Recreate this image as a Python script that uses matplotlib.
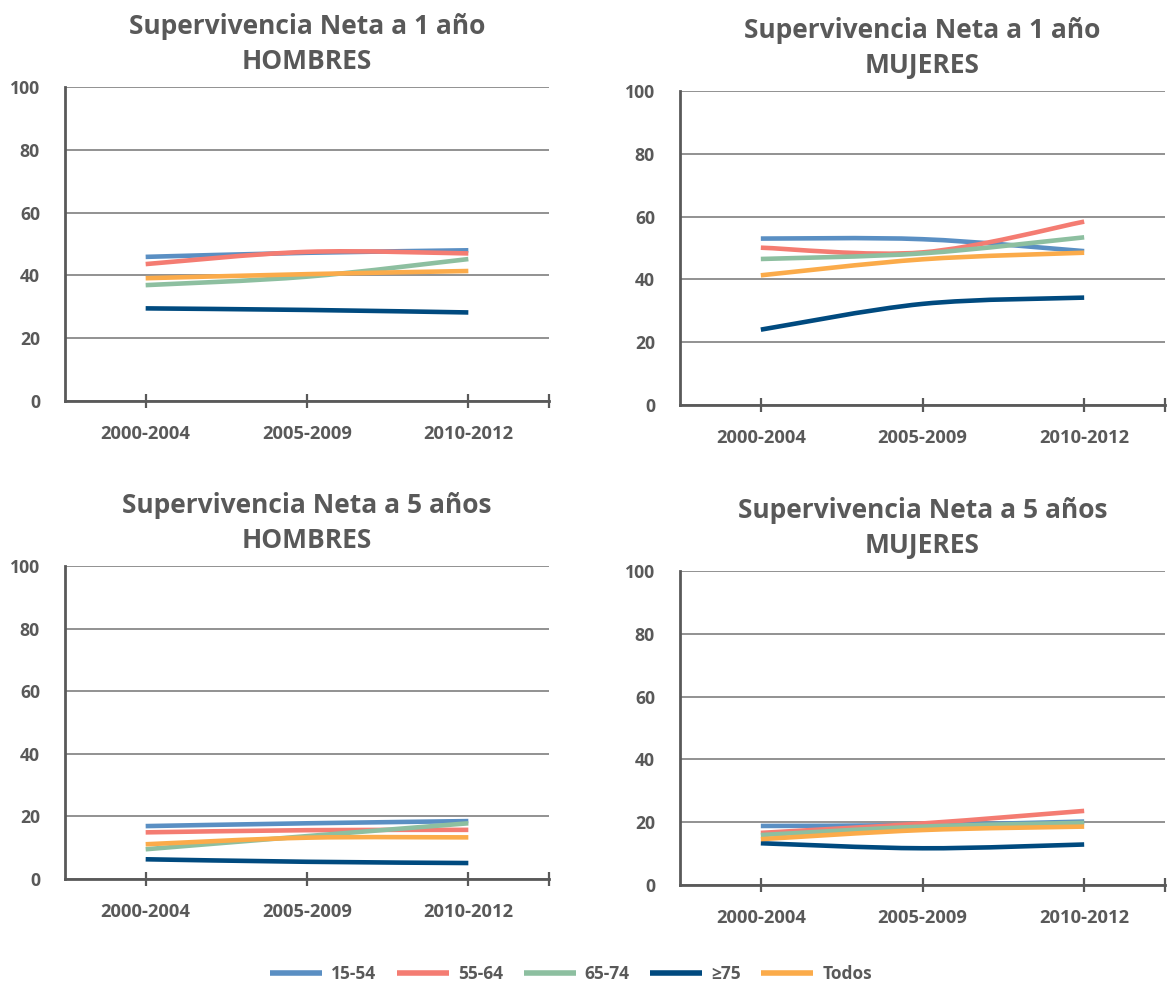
import matplotlib
matplotlib.use('Agg')
import matplotlib.pyplot as plt
from matplotlib.path import Path
from matplotlib.patches import PathPatch
from matplotlib.lines import Line2D
import numpy as np

plt.rcParams['font.family'] = ['Open Sans', 'DejaVu Sans']
plt.rcParams['font.weight'] = 'bold'

# datos
periodos = ['2000-2004', '2005-2009', '2010-2012']
grupos = ['15-54', '55-64', '65-74', '≥75', 'Todos']
colores = ['#5a8fc3', '#f47c72', '#8dbfa0', '#004a7f', '#fbab4a']

h1 = {'15-54': [45.9, 47.2, 48.0], '55-64': [43.6, 47.5, 47.0], '65-74': [36.9, 39.6, 45.2],
      '≥75': [29.5, 29.0, 28.2], 'Todos': [39.1, 40.4, 41.4]}
m1 = {'15-54': [53.0, 52.8, 49.0], '55-64': [50.1, 48.6, 58.4], '65-74': [46.5, 48.3, 53.4],
      '≥75': [24.0, 32.2, 34.2], 'Todos': [41.3, 46.4, 48.5]}
h5 = {'15-54': [16.9, 17.8, 18.5], '55-64': [14.9, 15.6, 15.7], '65-74': [9.5, 13.7, 17.8],
      '≥75': [6.3, 5.5, 5.1], 'Todos': [11.1, 13.2, 13.3]}
m5 = {'15-54': [18.8, 19.1, 20.2], '55-64': [16.6, 19.6, 23.6], '65-74': [15.9, 18.6, 19.8],
      '≥75': [13.3, 11.7, 12.9], 'Todos': [14.6, 17.5, 18.6]}

gris = '#595959'
W, H = 1167, 982


def suave(ax, xs, ys, color):
    # linea suavizada tipo Excel (bezier catmull-rom)
    pts = np.column_stack([xs, ys]).astype(float)
    n = len(pts)
    verts = [pts[0]]
    codes = [Path.MOVETO]
    for i in range(n - 1):
        p0 = pts[i - 1] if i > 0 else pts[i]
        p1, p2 = pts[i], pts[i + 1]
        p3 = pts[i + 2] if i + 2 < n else pts[i + 1]
        c1 = p1 + (p2 - p0) / 6
        c2 = p2 - (p3 - p1) / 6
        verts += [c1, c2, p2]
        codes += [Path.CURVE4] * 3
    ax.add_patch(PathPatch(Path(verts, codes), fill=False, edgecolor=color,
                           lw=3.3, capstyle='butt', zorder=3))


def panel(rect, datos, titulo):
    ax = fig.add_axes(rect)
    x = np.arange(len(periodos))
    for g, c in zip(grupos, colores):
        suave(ax, x, datos[g], c)
    ax.set_xlim(-0.5, 2.5)
    ax.set_ylim(0, 100)
    ax.set_yticks([0, 20, 40, 60, 80, 100])
    ax.set_xticks([0, 1, 2, 2.5])
    ax.set_xticklabels(periodos + [''])
    ax.grid(axis='y', color='#7f7f7f', lw=1.2, zorder=1)
    ax.set_axisbelow(True)
    for s in ['top', 'right']:
        ax.spines[s].set_visible(False)
    for s in ['left', 'bottom']:
        ax.spines[s].set_color(gris)
        ax.spines[s].set_linewidth(2)
        ax.spines[s].set_zorder(4)
    ax.tick_params(axis='y', length=0, pad=18, labelsize=12.7, labelcolor=gris)
    ax.tick_params(axis='x', direction='inout', length=10, width=1.6, color=gris,
                   pad=12, labelsize=13.2, labelcolor=gris)
    ax.set_title(titulo, fontsize=19, fontweight='bold', color=gris,
                 linespacing=1.36, pad=13)
    return ax


fig = plt.figure(figsize=(W / 100, H / 100), dpi=100)

panel([65 / W, 1 - 401 / H, 484 / W, 314 / H], h1, 'Supervivencia Neta a 1 año\nHOMBRES')
panel([680 / W, 1 - 405 / H, 485 / W, 314 / H], m1, 'Supervivencia Neta a 1 año\nMUJERES')
panel([65 / W, 1 - 879 / H, 484 / W, 313 / H], h5, 'Supervivencia Neta a 5 años\nHOMBRES')
panel([680 / W, 1 - 885 / H, 485 / W, 314 / H], m5, 'Supervivencia Neta a 5 años\nMUJERES')

handles = [Line2D([], [], color=c, lw=4, solid_capstyle='butt') for c in colores]
leg = fig.legend(handles, grupos, loc='center', bbox_to_anchor=(571 / W, 1 - 974 / H),
                 ncol=5, frameon=False, handlelength=3, handletextpad=0.5,
                 columnspacing=1.2, prop={'size': 12.5, 'weight': 'bold'})
for t in leg.get_texts():
    t.set_color(gris)

fig.savefig('out.png', dpi=100)
